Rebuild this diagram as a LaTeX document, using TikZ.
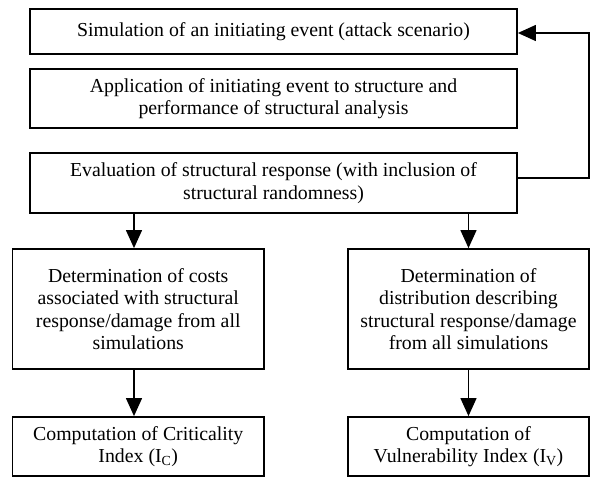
\documentclass[tikz,border=0pt]{standalone}
\usepackage{fontspec}
\setmainfont{Liberation Serif}
\usetikzlibrary{arrows.meta,calc}
\begin{document}
\begin{tikzpicture}[x=1pt,y=-1pt,
  box/.style={draw,line width=1.8pt,inner sep=0pt,align=center,
    font=\fontsize{19.8}{22.5}\selectfont},
  conn/.style={line width=1.3pt},
  arr/.style={conn,-{Triangle[length=18pt,width=16pt]}}]
\useasboundingbox (0,0) rectangle (590,477);
\node[box,minimum width=487pt,minimum height=45pt] (b1) at (273.5,31.5)
  {Simulation of an initiating event (attack scenario)};
\node[box,minimum width=487pt,minimum height=59pt] (b2) at (273.5,98.5)
  {Application of initiating event to structure and\\performance of structural analysis};
\node[box,minimum width=487pt,minimum height=60pt] (b3) at (273.5,183)
  {Evaluation of structural response (with inclusion of\\structural randomness)};
\node[box,minimum width=251.5pt,minimum height=120pt] (b4) at (138.25,309)
  {Determination of costs\\associated with structural\\response/damage from all\\simulations};
\node[box,minimum width=241pt,minimum height=120pt] (b5) at (468.5,309)
  {Determination of\\distribution describing\\structural response/damage\\from all simulations};
\node[box,minimum width=251.5pt,minimum height=59pt] (b6) at (138.25,446.5)
  {Computation of Criticality\\Index (I\textsubscript{C})};
\node[box,minimum width=241pt,minimum height=59pt] (b7) at (468.5,446.5)
  {Computation of\\Vulnerability Index (I\textsubscript{V})};
\coordinate (lx) at (589,0);
\coordinate (ax) at (134,0);
\draw[arr] (b3.south -| ax) -- (b4.north -| ax);
\draw[arr] (b3.south -| b5.north) -- (b5.north);
\draw[arr] (b4.south -| ax) -- (b6.north -| ax);
\draw[arr] (b5.south) -- (b7.north);
\draw[arr] ([yshift=5pt]b3.east) -- ([yshift=5pt]b3.east -| lx)
  -- ([yshift=-1.5pt]b1.east -| lx) -- ([yshift=-1.5pt]b1.east);
\end{tikzpicture}
\end{document}
